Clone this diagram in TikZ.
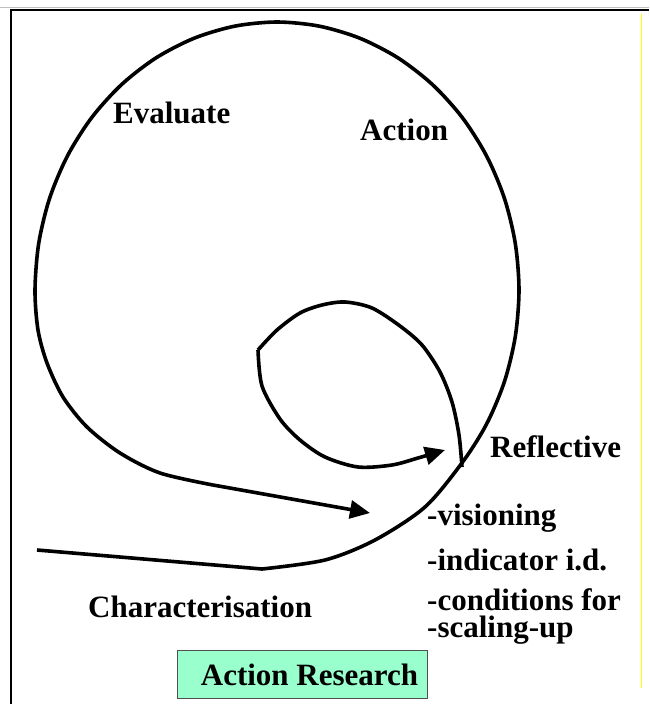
\documentclass[tikz,border=0pt]{standalone}
\usepackage{fontspec}
\setmainfont{Liberation Serif}
\usetikzlibrary{arrows.meta}
\definecolor{mint}{HTML}{99FFCC}
\definecolor{boxedge}{HTML}{505050}
\definecolor{rule}{HTML}{FFFF00}
\begin{document}
\begin{tikzpicture}[x=1pt, y=-1pt,
  spiral/.style={line width=3.6pt, line join=round},
  headed/.style={spiral, -{Triangle[length=20pt,width=18pt]}},
  caption/.style={font=\fontsize{31}{27}\selectfont\bfseries, anchor=base west,
    inner sep=0pt, align=left},
  titlebox/.style={draw=boxedge, line width=1pt, fill=mint, inner sep=0pt,
    minimum width=250pt, minimum height=48pt, anchor=south west,
    font=\fontsize{31}{36}\selectfont\bfseries}]
\useasboundingbox (0,0) rectangle (649,704);

% page frame
\draw[black!25, line width=1pt] (0,7) -- (649,7);
\draw[line width=2pt] (649,9.5) -- (11,9.5) -- (11,704);
\draw[rule, line width=1pt] (641,14) -- (641,688);

% named ends of the spiral strokes
\coordinate (tailstart) at (37,550);
\coordinate (bend) at (262,569);
\coordinate (outerend) at (213,485);
\coordinate (outertip) at (370,513);
\coordinate (innerstart) at (462,467);
\coordinate (cusp) at (258,350);
\coordinate (innertip) at (445,450);

% outer loop: lead-in, elliptical sweep (centre 277,290; radii 242,268), lead-out
\draw[spiral] (tailstart) -- (bend);
\draw[spiral] plot[smooth] coordinates {(bend) (325,560) (375,540) (425,507)
  (462.4,462.3) (486.6,424) (504.4,381.7) (515.3,336.5) (519,290) (515.3,243.5)
  (504.4,198.3) (486.6,156) (462.4,117.7) (432.6,84.7) (398,57.9) (359.8,38.2)
  (319,26.1) (277,22) (235,26.1) (194.2,38.2) (156,57.9) (121.4,84.7) (91.6,117.7)
  (67.4,156) (49.6,198.3) (38.7,243.5) (35,290) (38,330) (47,363) (63,397)
  (87,427) (120,453) (160,473) (outerend)};
\draw[headed] (outerend) -- (outertip);

% inner loop
\draw[spiral] plot[smooth] coordinates {(innerstart) (459,435) (452,402) (440,372)
  (422,345) (400,326) (372,308) (345,302) (322,305) (300,313) (277,330) (cusp)};
\draw[headed] plot[smooth] coordinates {(cusp) (262,386) (280,419) (300,440)
  (325,457) (358,467) (392,465) (418,458) (innertip)};

% stage labels
\node[caption] (evaluate) at (113,123) {Evaluate};
\node[caption] (action) at (360,140) {Action};
\node[caption] (reflective) at (490,457) {Reflective};
\node[caption] (visioning) at (427,525) {-visioning};
\node[caption] (indicator) at (427,570) {-indicator i.d.};
\node[caption, anchor=north west] (conditions) at (427,588) {-conditions for\\-scaling-up};
\node[caption] (character) at (88,617) {Characterisation};

% title
\node[titlebox] (title) at (177,699) {\hspace{14pt}Action Research};
\end{tikzpicture}
\end{document}
